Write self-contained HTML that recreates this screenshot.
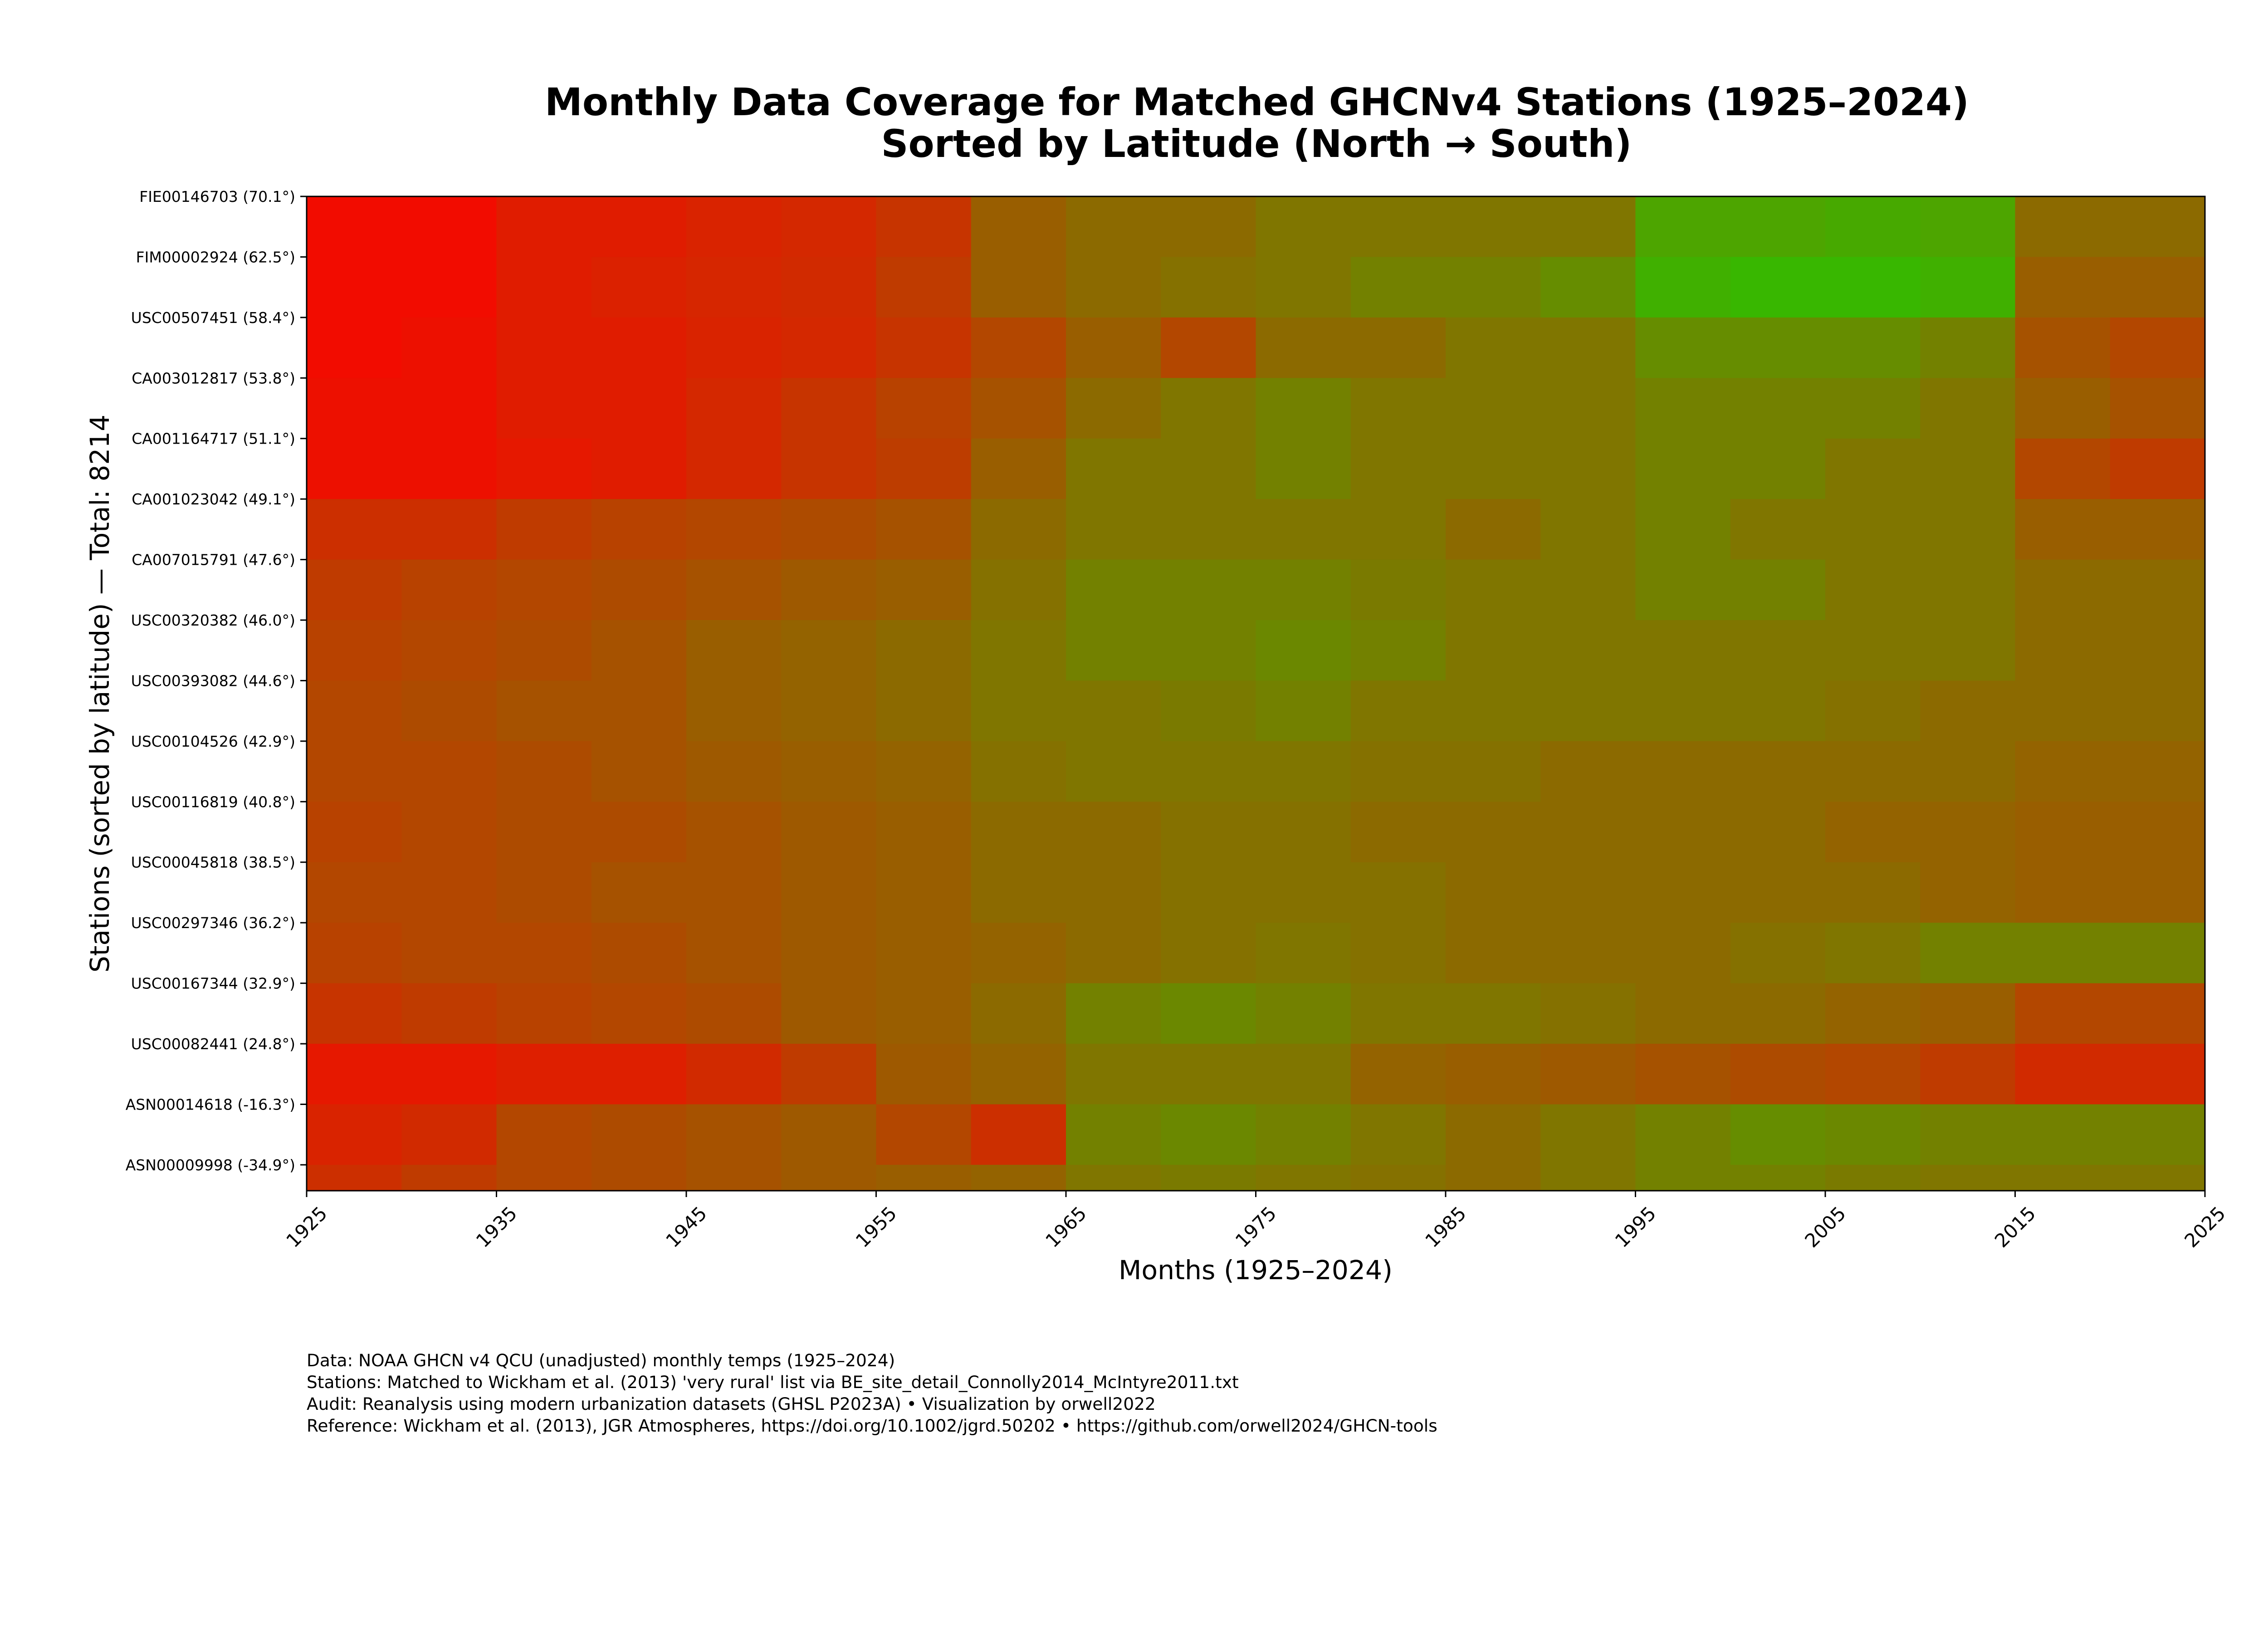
<!DOCTYPE html>
<html><head><meta charset="utf-8"><style>
html,body{margin:0;padding:0;background:#fff;width:5400px;height:3600px;overflow:hidden;}
svg{display:block;}
text{font-family:"DejaVu Sans","Liberation Sans",sans-serif;fill:#000;}
</style></head><body>
<svg id="chart" xmlns="http://www.w3.org/2000/svg" width="5400" height="3600" viewBox="0 0 5400 3600">
<rect width="5400" height="3600" fill="#fff"/>
<text x="2771" y="254" text-anchor="middle" font-size="84" font-weight="bold" textLength="3140" lengthAdjust="spacingAndGlyphs">Monthly Data Coverage for Matched GHCNv4 Stations (1925–2024)</text>
<text x="2770" y="346" text-anchor="middle" font-size="84" font-weight="bold" textLength="1655" lengthAdjust="spacingAndGlyphs">Sorted by Latitude (North → South)</text>
<g id="cells"></g>
<g id="yaxis"></g>
<g id="xaxis"></g>
<rect x="676" y="433" width="4185" height="2192" fill="none" stroke="#000" stroke-width="3"/>
<text x="2768" y="2820" text-anchor="middle" font-size="58" textLength="604" lengthAdjust="spacingAndGlyphs">Months (1925–2024)</text>
<text transform="translate(240,1529) rotate(-90)" text-anchor="middle" font-size="58" textLength="1230" lengthAdjust="spacingAndGlyphs">Stations (sorted by latitude) — Total: 8214</text>
<g font-size="37.5">
<text x="676" y="3012">Data: NOAA GHCN v4 QCU (unadjusted) monthly temps (1925–2024)</text>
<text x="676" y="3060">Stations: Matched to Wickham et al. (2013) 'very rural' list via BE_site_detail_Connolly2014_McIntyre2011.txt</text>
<text x="676" y="3108">Audit: Reanalysis using modern urbanization datasets (GHSL P2023A) • Visualization by orwell2022</text>
<text x="676" y="3156">Reference: Wickham et al. (2013), JGR Atmospheres, https://doi.org/10.1002/jgrd.50202 • https://github.com/orwell2024/GHCN-tools</text>
</g>
</svg>
<script>
const totalStations = 8214;
const bandSize = 500;
const startYear = 1925;
const endYear = 2025;
const binYears = 5;
const yTickLabels = ["FIE00146703 (70.1°)","FIM00002924 (62.5°)","USC00507451 (58.4°)","CA003012817 (53.8°)","CA001164717 (51.1°)","CA001023042 (49.1°)","CA007015791 (47.6°)","USC00320382 (46.0°)","USC00393082 (44.6°)","USC00104526 (42.9°)","USC00116819 (40.8°)","USC00045818 (38.5°)","USC00297346 (36.2°)","USC00167344 (32.9°)","USC00082441 (24.8°)","ASN00014618 (-16.3°)","ASN00009998 (-34.9°)"];
const xTickYears = [1925,1935,1945,1955,1965,1975,1985,1995,2005,2015,2025];
// coverage fraction per 500-station band (rows) per 5-year bin (cols)
const coverage = [
[.05,.05,.12,.12,.15,.17,.22,.4,.45,.45,.5,.5,.5,.5,.7,.7,.72,.7,.45,.45],
[.05,.05,.12,.14,.16,.18,.25,.4,.45,.48,.5,.55,.55,.6,.75,.78,.78,.75,.4,.4],
[.05,.07,.12,.12,.15,.17,.22,.3,.4,.3,.45,.45,.5,.5,.6,.6,.6,.55,.35,.3],
[.07,.07,.12,.12,.17,.22,.28,.35,.45,.5,.55,.5,.5,.5,.55,.55,.55,.5,.4,.35],
[.07,.07,.1,.12,.17,.22,.26,.4,.5,.5,.55,.5,.5,.5,.55,.55,.5,.5,.3,.25],
[.2,.2,.25,.28,.3,.32,.35,.45,.5,.5,.5,.5,.45,.5,.55,.5,.5,.5,.4,.4],
[.25,.28,.3,.32,.35,.38,.4,.48,.55,.55,.55,.52,.5,.5,.55,.55,.5,.5,.45,.45],
[.28,.3,.32,.35,.4,.42,.45,.5,.55,.55,.58,.55,.5,.5,.5,.5,.5,.5,.45,.45],
[.3,.32,.35,.35,.4,.42,.45,.5,.5,.52,.55,.5,.5,.5,.5,.5,.48,.45,.45,.45],
[.3,.3,.32,.35,.38,.4,.42,.48,.5,.5,.5,.48,.48,.45,.45,.45,.45,.45,.42,.42],
[.28,.3,.32,.32,.35,.38,.4,.45,.45,.48,.48,.45,.45,.45,.45,.45,.42,.42,.4,.4],
[.3,.3,.32,.35,.35,.38,.4,.45,.45,.48,.48,.48,.45,.45,.45,.45,.45,.42,.4,.4],
[.28,.3,.3,.32,.35,.38,.4,.42,.45,.48,.5,.48,.45,.45,.45,.48,.5,.55,.55,.55],
[.22,.25,.28,.3,.32,.38,.4,.45,.55,.58,.55,.5,.5,.48,.45,.45,.42,.4,.3,.3],
[.1,.1,.13,.13,.18,.25,.38,.42,.5,.5,.5,.42,.4,.38,.35,.32,.3,.25,.18,.18],
[.15,.18,.3,.32,.35,.38,.3,.2,.55,.58,.55,.5,.45,.5,.55,.6,.58,.55,.55,.55],
[.2,.25,.3,.32,.35,.38,.4,.42,.5,.52,.5,.48,.45,.5,.55,.55,.52,.5,.5,.5]
];
const NS="http://www.w3.org/2000/svg";
const PL=676, PR=4861, PT=433, PB=2625;
function xScale(year){return PL+(year-startYear)/(endYear-startYear)*(PR-PL);}
function yScale(row){return PT+row/totalStations*(PB-PT);}
function color(v){return "rgb("+Math.round(255*(1-v))+","+Math.round(235*v)+",0)";}
const cells=document.getElementById('cells');
coverage.forEach((rowVals,r)=>{
  const y0=yScale(r*bandSize), y1=yScale(Math.min((r+1)*bandSize,totalStations));
  rowVals.forEach((v,c)=>{
    const x0=xScale(startYear+c*binYears), x1=xScale(startYear+(c+1)*binYears);
    const el=document.createElementNS(NS,'rect');
    el.setAttribute('x',x0);el.setAttribute('y',y0);
    el.setAttribute('width',Math.min(x1-x0+0.5,PR-x0));el.setAttribute('height',Math.min(y1-y0+0.5,PB-y0));
    el.setAttribute('fill',color(v));
    
    
    cells.appendChild(el);
  });
});
const ya=document.getElementById('yaxis');
yTickLabels.forEach((lab,i)=>{
  const y=yScale(i*bandSize);
  const t=document.createElementNS(NS,'line');
  t.setAttribute('x1',PL-14);t.setAttribute('x2',PL);t.setAttribute('y1',y);t.setAttribute('y2',y);
  t.setAttribute('stroke','#000');t.setAttribute('stroke-width','3');
  
  
  ya.appendChild(t);
  const tx=document.createElementNS(NS,'text');
  tx.setAttribute('x',PL-25);tx.setAttribute('y',y+12);tx.setAttribute('text-anchor','end');tx.setAttribute('font-size','33');
  tx.textContent=lab;
  
  
  ya.appendChild(tx);
});
const xa=document.getElementById('xaxis');
xTickYears.forEach(yr=>{
  const x=xScale(yr);
  const t=document.createElementNS(NS,'line');
  t.setAttribute('x1',x);t.setAttribute('x2',x);t.setAttribute('y1',PB);t.setAttribute('y2',PB+14);
  t.setAttribute('stroke','#000');t.setAttribute('stroke-width','3');
  
  
  xa.appendChild(t);
  const tx=document.createElementNS(NS,'text');
  tx.setAttribute('transform','translate('+x+',2705) rotate(-45)');
  tx.setAttribute('text-anchor','middle');tx.setAttribute('dominant-baseline','central');tx.setAttribute('font-size','41.7');
  tx.textContent=String(yr);
  
  
  xa.appendChild(tx);
});
</script>
</body></html>
